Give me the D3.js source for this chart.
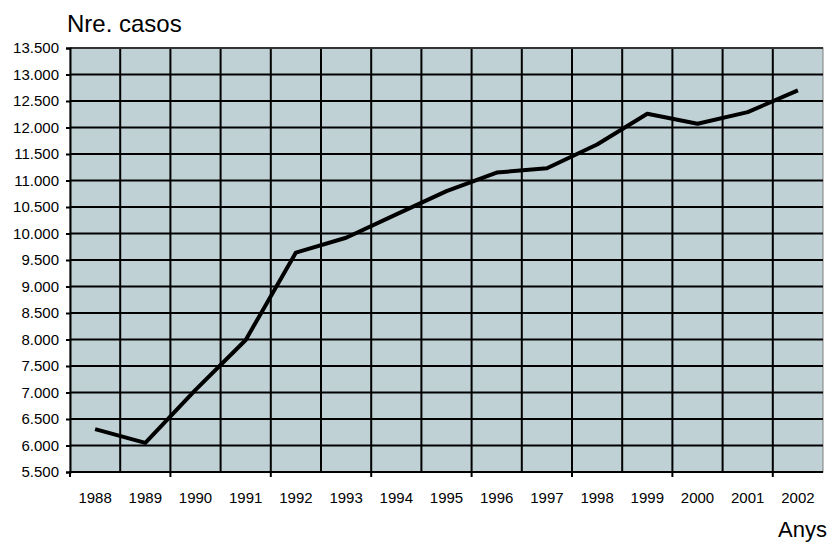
<!DOCTYPE html>
<html>
<head>
<meta charset="utf-8">
<script src="https://cdn.jsdelivr.net/npm/d3@7"></script>
<style>
	body { margin: 0; background: #fff; }
	svg { font-family: "Liberation Sans", Arial, sans-serif; }
</style>
</head>
<body>
<div class="chart"></div>
<script>
const years = ['1988','1989','1990','1991','1992','1993','1994','1995','1996','1997','1998','1999','2000','2001','2002'];
const cases = [6310, 6050, 7050, 7990, 9640, 9920, 10360, 10800, 11150, 11230, 11680, 12260, 12070, 12290, 12700];
const yTicks = [5500, 6000, 6500, 7000, 7500, 8000, 8500, 9000, 9500, 10000, 10500, 11000, 11500, 12000, 12500, 13000, 13500];

const width = 829;
const height = 542;
const plotLeft = 70, plotRight = 823, plotTop = 48, plotBottom = 472;

const svg = d3.select('.chart')
	.append('svg')
	.attr('width', width)
	.attr('height', height);

const x = d3.scaleBand()
	.domain(years)
	.range([plotLeft, plotRight])
	.padding(0);

const y = d3.scaleLinear()
	.domain([5500, 13500])
	.range([plotBottom, plotTop]);

const fmt = d => d3.format(',')(d).replace(/,/g, '.');

// plot background
svg.append('rect')
	.attr('x', plotLeft)
	.attr('y', plotTop)
	.attr('width', plotRight - plotLeft)
	.attr('height', plotBottom - plotTop)
	.style('fill', '#bfd1d4')
	.style('stroke', '#7f7f7f')
	.style('stroke-width', 1);

// horizontal grid
svg.selectAll('.hgrid')
	.data(yTicks.filter(d => d > 5500 && d < 13500))
	.enter()
	.append('line')
	.attr('class', 'hgrid')
	.attr('x1', plotLeft)
	.attr('x2', plotRight)
	.attr('y1', d => y(d))
	.attr('y2', d => y(d))
	.style('stroke', '#000')
	.style('stroke-width', 2);

// vertical grid at category boundaries
svg.selectAll('.vgrid')
	.data(years.slice(1))
	.enter()
	.append('line')
	.attr('class', 'vgrid')
	.attr('x1', d => x(d))
	.attr('x2', d => x(d))
	.attr('y1', plotTop)
	.attr('y2', plotBottom)
	.style('stroke', '#000')
	.style('stroke-width', 2);

// top line
svg.append('line')
	.attr('x1', plotLeft).attr('x2', plotRight)
	.attr('y1', y(13500)).attr('y2', y(13500))
	.style('stroke', '#333')
	.style('stroke-width', 2);

// y axis
const yAxis = svg.append('g')
	.attr('transform', 'translate(' + plotLeft + ',0)')
	.call(d3.axisLeft(y).tickValues(yTicks).tickFormat(fmt).tickSize(4).tickPadding(7));
yAxis.select('.domain').style('stroke', '#000').style('stroke-width', 2);
yAxis.selectAll('.tick line').style('stroke', '#000').style('stroke-width', 2);
yAxis.selectAll('text')
	.attr('font-size', '15px')
	.attr('fill', '#000')
	.style('font-family', '"Liberation Sans", Arial, sans-serif');

// x axis labels
const xAxis = svg.append('g')
	.attr('transform', 'translate(0,' + plotBottom + ')')
	.call(d3.axisBottom(x).tickSize(0).tickPadding(20));
xAxis.select('.domain').remove();
xAxis.selectAll('text')
	.attr('font-size', '15px')
	.attr('fill', '#000')
	.style('font-family', '"Liberation Sans", Arial, sans-serif');

// x tick marks every two categories
svg.selectAll('.xtick')
	.data(years.filter((d, i) => i % 2 == 0))
	.enter()
	.append('line')
	.attr('class', 'xtick')
	.attr('x1', d => x(d))
	.attr('x2', d => x(d))
	.attr('y1', plotBottom)
	.attr('y2', plotBottom + 5)
	.style('stroke', '#000')
	.style('stroke-width', 2);

svg.append('line')
	.attr('x1', plotLeft - 1).attr('x2', plotRight)
	.attr('y1', plotBottom).attr('y2', plotBottom)
	.style('stroke', '#000')
	.style('stroke-width', 2);

// data line
const line = d3.line()
	.x((d, i) => x(years[i]) + x.bandwidth() / 2)
	.y(d => y(d));

svg.append('path')
	.datum(cases)
	.attr('d', line)
	.style('fill', 'none')
	.style('stroke', '#000')
	.style('stroke-width', 4)
	.style('stroke-linejoin', 'round');

// axis titles
svg.append('text')
	.attr('x', 67)
	.attr('y', 32)
	.attr('font-size', '24px')
	.text('Nre. casos');

svg.append('text')
	.attr('x', 827)
	.attr('y', 537)
	.attr('text-anchor', 'end')
	.attr('font-size', '22px')
	.text('Anys');
</script>
</body>
</html>
